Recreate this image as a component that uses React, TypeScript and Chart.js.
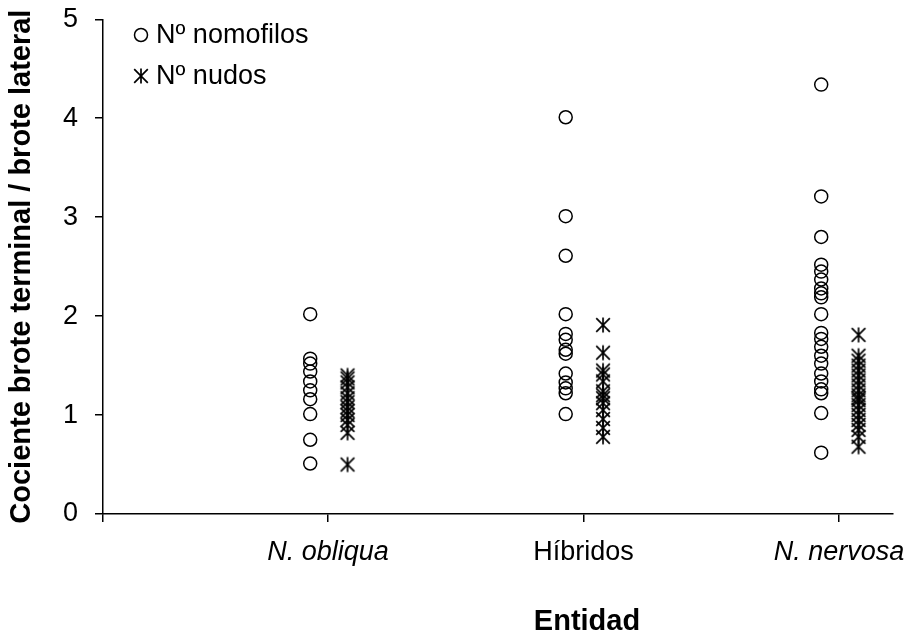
import React, { useEffect, useRef } from "react";
import { Chart, registerables } from "chart.js";

Chart.register(...registerables);

const categories = ["N. obliqua", "Híbridos", "N. nervosa"];
const italicCategory = [true, false, true];
const yTickValues = [0, 1, 2, 3, 4, 5];
const seriesLabels = ["Nº nomofilos", "Nº nudos"];
const xTitle = "Entidad";
const yTitle = "Cociente brote terminal / brote lateral";

// Nº nomofilos (circles)
const nomofilosObliqua = [2.02, 1.57, 1.52, 1.44, 1.34, 1.25, 1.16, 1.01, 0.75, 0.51];
const nomofilosHibridos = [4.01, 3.01, 2.61, 2.02, 1.82, 1.76, 1.66, 1.62, 1.42, 1.33, 1.27, 1.22, 1.01];
const nomofilosNervosa = [4.34, 3.21, 2.8, 2.52, 2.45, 2.37, 2.28, 2.23, 2.19, 2.02, 1.83, 1.77, 1.69, 1.6, 1.52, 1.42, 1.34, 1.26, 1.22, 1.02, 0.62];

// Nº nudos (asterisks)
const nudosObliqua = [1.4, 1.37, 1.33, 1.28, 1.22, 1.17, 1.13, 1.08, 1.04, 1.0, 0.95, 0.9, 0.82, 0.5];
const nudosHibridos = [1.91, 1.63, 1.45, 1.41, 1.34, 1.24, 1.2, 1.17, 1.12, 1.05, 0.96, 0.87, 0.78];
const nudosNervosa = [1.81, 1.6, 1.55, 1.5, 1.45, 1.4, 1.35, 1.3, 1.25, 1.2, 1.17, 1.15, 1.1, 1.05, 1.0, 0.95, 0.9, 0.85, 0.78, 0.68];

const CIRCLE_OFFSET = -0.07;
const STAR_OFFSET = 0.076;
const X_MIN = 0.119;
const X_MAX = 3.211;

const FONT = "Arial, 'Liberation Sans', sans-serif";

function makeStar(): HTMLCanvasElement {
  const c = document.createElement("canvas");
  c.width = 18;
  c.height = 18;
  const g = c.getContext("2d")!;
  g.strokeStyle = "#000";
  g.lineWidth = 1.7;
  g.beginPath();
  g.moveTo(9, 1.5);
  g.lineTo(9, 16.5);
  g.moveTo(2.2, 2.2);
  g.lineTo(15.8, 15.8);
  g.moveTo(15.8, 2.2);
  g.lineTo(2.2, 15.8);
  g.stroke();
  return c;
}

function toPoints(groups: number[][], offset: number) {
  const pts: { x: number; y: number }[] = [];
  groups.forEach((vals, i) => vals.forEach((v) => pts.push({ x: i + 1 + offset, y: v })));
  return pts;
}

export default function App() {
  const ref = useRef<HTMLCanvasElement>(null);

  useEffect(() => {
    const star = makeStar();
    const legendPlugin = {
      id: "customLegend",
      afterDraw(chart: any) {
        const ctx = chart.ctx;
        ctx.save();
        ctx.strokeStyle = "#000";
        ctx.lineWidth = 1.5;
        ctx.beginPath();
        ctx.arc(141, 35, 6.5, 0, Math.PI * 2);
        ctx.stroke();
        ctx.drawImage(star, 141 - 9, 76 - 9);
        ctx.fillStyle = "#000";
        ctx.font = `27px ${FONT}`;
        ctx.textAlign = "left";
        ctx.textBaseline = "middle";
        ctx.fillText(seriesLabels[0], 156, 36);
        ctx.fillText(seriesLabels[1], 156, 77);
        ctx.font = `bold 29px ${FONT}`;
        ctx.textAlign = "center";
        ctx.fillText(xTitle, 587, 622);
        ctx.restore();
      },
    };

    const chart = new Chart(ref.current!, {
      type: "scatter",
      data: {
        datasets: [
          {
            label: seriesLabels[0],
            data: toPoints([nomofilosObliqua, nomofilosHibridos, nomofilosNervosa], CIRCLE_OFFSET),
            pointStyle: "circle",
            pointRadius: 6.5,
            borderColor: "#000",
            backgroundColor: "rgba(0,0,0,0)",
            borderWidth: 1.5,
          },
          {
            label: seriesLabels[1],
            data: toPoints([nudosObliqua, nudosHibridos, nudosNervosa], STAR_OFFSET),
            pointStyle: star,
            pointRadius: 9,
            borderColor: "#000",
            backgroundColor: "#000",
          },
        ],
      },
      options: {
        responsive: false,
        animation: false,
        events: [],
        layout: { padding: { top: 19.3, right: 14, left: 0, bottom: 0 } },
        plugins: { legend: { display: false }, tooltip: { enabled: false } },
        scales: {
          x: {
            type: "linear",
            min: X_MIN,
            max: X_MAX,
            afterBuildTicks: (s: any) => {
              s.ticks = [{ value: X_MIN }, { value: 1 }, { value: 2 }, { value: 3 }];
            },
            afterFit: (s: any) => {
              s.height = 124;
              s.paddingLeft = 0;
              s.paddingRight = 0;
            },
            ticks: {
              autoSkip: false,
              maxRotation: 0,
              color: "#000",
              padding: 14,
              callback: (v: any) => categories[Math.round(v) - 1] !== undefined && Math.abs(v - Math.round(v)) < 1e-6 ? categories[Math.round(v) - 1] : "",
              font: (ctx: any) => {
                const v = ctx.tick ? ctx.tick.value : 0;
                const idx = Math.round(v) - 1;
                return { family: FONT, size: 27, style: italicCategory[idx] ? "italic" : "normal" };
              },
            },
            grid: { drawOnChartArea: false, tickLength: 8, color: "#000", lineWidth: 1.5 },
            border: { color: "#000", width: 1.5 },
            title: { display: false },
          },
          y: {
            min: 0,
            max: 5,
            afterBuildTicks: (s: any) => {
              s.ticks = yTickValues.map((v) => ({ value: v }));
            },
            afterFit: (s: any) => {
              s.width = 103;
              s.paddingTop = 0;
              s.paddingBottom = 0;
            },
            ticks: {
              color: "#000",
              padding: 17,
              font: { family: FONT, size: 27 },
            },
            grid: { drawOnChartArea: false, tickLength: 8, color: "#000", lineWidth: 1.5 },
            border: { color: "#000", width: 1.5 },
            title: {
              display: true,
              text: yTitle,
              color: "#000",
              font: { family: FONT, size: 29, weight: "bold" },
              padding: { top: 5, bottom: 0 },
            },
          },
        },
      },
      plugins: [legendPlugin],
    } as any);
    return () => chart.destroy();
  }, []);

  return (
    <div style={{ position: "fixed", left: 0, top: 0, width: 907, height: 638, background: "#fff" }}>
      <canvas ref={ref} width={907} height={638} style={{ display: "block" }} />
    </div>
  );
}
